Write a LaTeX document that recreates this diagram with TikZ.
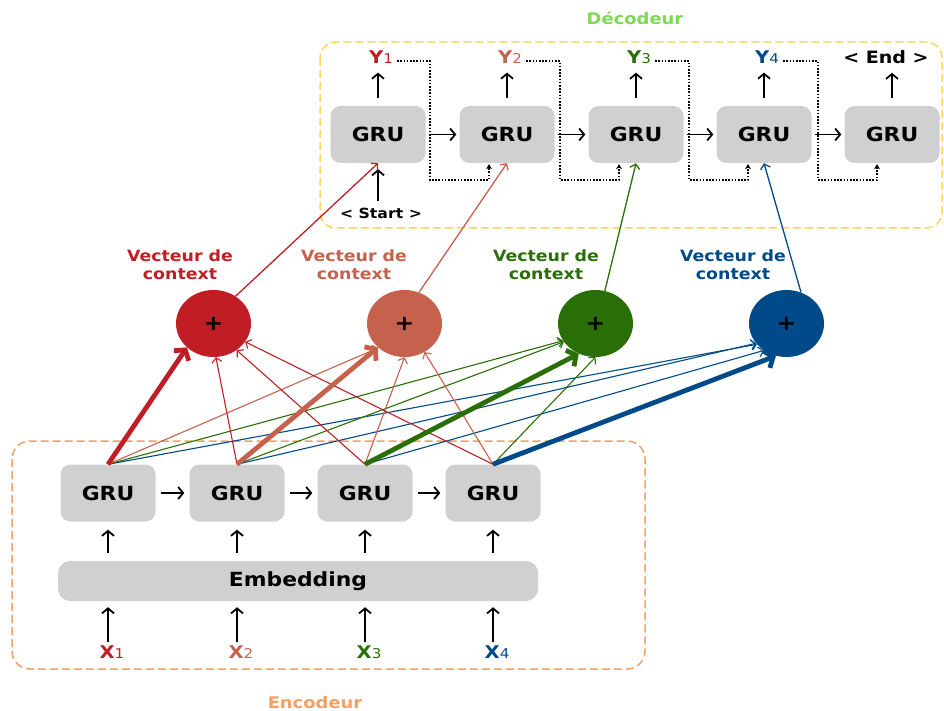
\documentclass[tikz,border=0pt]{standalone}
\usepackage{fontspec}
\setmainfont{DejaVu Sans}[FakeStretch=1.12]
\usetikzlibrary{arrows.meta,shapes.geometric}

\definecolor{cRed}{RGB}{192,30,36}
\definecolor{cSalmon}{RGB}{197,97,77}
\definecolor{cGreen}{RGB}{42,110,8}
\definecolor{cBlue}{RGB}{0,74,138}
\definecolor{boxgray}{RGB}{208,208,208}
\definecolor{decText}{RGB}{126,217,87}
\definecolor{decBorder}{RGB}{255,214,90}
\definecolor{encBorder}{RGB}{244,160,100}

\newcommand{\fsz}[1]{\fontsize{#1}{#1}\selectfont}
\newcommand{\lbl}[2]{{\bfseries #1}{\fsz{13.5}#2}}

\begin{document}
\begin{tikzpicture}[x=1pt,y=-1pt,
  gru/.style={fill=boxgray, rounded corners=10pt, minimum width=95pt,
    minimum height=57pt, inner sep=0pt, font=\fsz{19.5}\bfseries},
  ctxnode/.style={ellipse, minimum width=75pt, minimum height=67pt,
    inner sep=0pt, font=\fsz{21}\bfseries},
  ctxlbl/.style={align=center, font=\fontsize{15.5}{18}\selectfont\bfseries},
  seq/.style={font=\fsz{17.5}, inner sep=1pt},
  blk/.style={line width=1.8pt, -{Straight Barb[length=5pt,width=12pt]}},
  dots/.style={line width=1.8pt, dash pattern=on 1.6pt off 1.6pt,
    -{Stealth[length=5pt,width=6pt]}},
  thin/.style={line width=1.1pt, -{Straight Barb[length=4.5pt,width=10pt]}},
  thick/.style={line width=4.8pt, -{Straight Barb[length=7pt,width=18pt]}},
  dec/.style={line width=1.3pt, -{Straight Barb[length=4.5pt,width=10pt]}},
  frame/.style={line width=1.5pt, dash pattern=on 8pt off 4pt}
]
\useasboundingbox (0,0) rectangle (944,711);

% ---------- frames ----------
\draw[frame, draw=decBorder, rounded corners=16pt] (320,42) rectangle (942,228);
\draw[frame, draw=encBorder, rounded corners=18pt] (12,441) rectangle (645,669);
\node[font=\fsz{16}\bfseries, text=decText] (dectitle) at (635,18) {Décodeur};
\node[font=\fsz{16}\bfseries, text=encBorder] (enctitle) at (315,703) {Encodeur};

% ---------- encoder ----------
\node[gru] (e1) at (108,493) {GRU};
\node[gru] (e2) at (237,493) {GRU};
\node[gru] (e3) at (365,493) {GRU};
\node[gru] (e4) at (493,493) {GRU};
\node[fill=boxgray, rounded corners=12pt, minimum width=480pt, minimum height=40pt,
  inner sep=0pt, font=\fsz{19.5}\bfseries] (emb) at (298,581) {Embedding};

\node[seq, text=cRed]    (x1) at (112,652) {\lbl{X}{1}};
\node[seq, text=cSalmon] (x2) at (241,652) {\lbl{X}{2}};
\node[seq, text=cGreen]  (x3) at (369,652) {\lbl{X}{3}};
\node[seq, text=cBlue]   (x4) at (497,652) {\lbl{X}{4}};

\foreach \i in {1,2,3,4}{
  \draw[blk, shorten <=8pt, shorten >=8pt] (e\i |- emb.north) -- (e\i.south);
  \draw[blk, shorten <=2pt, shorten >=6pt] (e\i |- x\i.north) -- (e\i |- emb.south);
}
\draw[blk, shorten <=5pt, shorten >=5pt] (e1.east) -- (e2.west);
\draw[blk, shorten <=5pt, shorten >=5pt] (e2.east) -- (e3.west);
\draw[blk, shorten <=5pt, shorten >=5pt] (e3.east) -- (e4.west);

% ---------- context vectors ----------
\node[ctxnode, fill=cRed]    (c1) at (213.5,323.5) {+};
\node[ctxnode, fill=cSalmon] (c2) at (404.5,323.5) {+};
\node[ctxnode, fill=cGreen]  (c3) at (595.5,323.5) {+};
\node[ctxnode, fill=cBlue]   (c4) at (786.5,323.5) {+};

\node[ctxlbl, text=cRed]    (l1) at (180,265) {Vecteur de\\context};
\node[ctxlbl, text=cSalmon] (l2) at (354,265) {Vecteur de\\context};
\node[ctxlbl, text=cGreen]  (l3) at (546,265) {Vecteur de\\context};
\node[ctxlbl, text=cBlue]   (l4) at (733,265) {Vecteur de\\context};

% attention weights, encoder states -> context vectors
\draw[thin, cBlue]  (e1.north) -- (c4.215);
\draw[thin, cBlue]  (e2.north) -- (c4.213);
\draw[thin, cBlue]  (e3.north) -- (c4.230);
\draw[thin, cGreen] (e1.north) -- (c3.208);
\draw[thin, cGreen] (e2.north) -- (c3.210);
\draw[thin, cGreen] (e4.north) -- (c3.270);
\draw[thin, cSalmon] (e1.north) -- (c2.223);
\draw[thin, cSalmon] (e3.north) -- (c2.270);
\draw[thin, cSalmon] (e4.north) -- (c2.305);
\draw[thin, cRed] (e2.north) -- (c1.274);
\draw[thin, cRed] (e3.north) -- (c1.311);
\draw[thin, cRed] (e4.north) -- (c1.330);
\draw[thick, cRed]    (e1.north) -- (c1.222);
\draw[thick, cSalmon] (e2.north) -- (c2.222);
\draw[thick, cGreen]  (e3.north) -- (c3.241);
\draw[thick, cBlue]   (e4.north) -- (c4.252);

% ---------- decoder ----------
\node[gru] (d1) at (378,134.5) {GRU};
\node[gru] (d2) at (507,134.5) {GRU};
\node[gru] (d3) at (636,134.5) {GRU};
\node[gru] (d4) at (764,134.5) {GRU};
\node[gru] (d5) at (892,134.5) {GRU};

\node[seq, text=cRed]    (y1) at (381,57) {\lbl{Y}{1}};
\node[seq, text=cSalmon] (y2) at (510,57) {\lbl{Y}{2}};
\node[seq, text=cGreen]  (y3) at (639,57) {\lbl{Y}{3}};
\node[seq, text=cBlue]   (y4) at (767,57) {\lbl{Y}{4}};
\node[seq, font=\fsz{17}\bfseries] (yend) at (886,57) {< End >};
\node[font=\fsz{14}\bfseries, inner sep=1pt] (start) at (381,213) {< Start >};

\draw[blk, shorten <=8pt, shorten >=8pt] (d1.north) -- (d1 |- y1.south);
\draw[blk, shorten <=8pt, shorten >=8pt] (d2.north) -- (d2 |- y2.south);
\draw[blk, shorten <=8pt, shorten >=8pt] (d3.north) -- (d3 |- y3.south);
\draw[blk, shorten <=8pt, shorten >=8pt] (d4.north) -- (d4 |- y4.south);
\draw[blk, shorten <=8pt, shorten >=8pt] (d5.north) -- (d5 |- yend.south);
\draw[blk, shorten <=6pt, shorten >=6pt] (d1 |- start.north) -- (d1.south);

\draw[blk, shorten <=3pt, shorten >=3pt] (d1.east) -- (d2.west);
\draw[blk, shorten <=3pt, shorten >=3pt] (d2.east) -- (d3.west);
\draw[blk, shorten <=3pt, shorten >=3pt] (d3.east) -- (d4.west);
\draw[blk, shorten <=3pt, shorten >=3pt] (d4.east) -- (d5.west);

% previous output fed back as next input
\coordinate (f1) at (430,180);
\coordinate (f2) at (560,180);
\coordinate (f3) at (689,180);
\coordinate (f4) at (818,180);
\draw[dots, shorten >=1pt] ([xshift=3pt,yshift=2pt]y1.base east) -| (f1) -| ([xshift=-18pt]d2.south);
\draw[dots, shorten >=1pt] ([xshift=3pt,yshift=2pt]y2.base east) -| (f2) -| ([xshift=-17pt]d3.south);
\draw[dots, shorten >=1pt] ([xshift=3pt,yshift=2pt]y3.base east) -| (f3) -| ([xshift=-16pt]d4.south);
\draw[dots, shorten >=1pt] ([xshift=3pt,yshift=2pt]y4.base east) -| (f4) -| ([xshift=-15pt]d5.south);

% context vectors -> decoder steps
\draw[dec, cRed]    (c1.51) -- (d1.south);
\draw[dec, cSalmon] (c2.65) -- (d2.south);
\draw[dec, cGreen]  (c3.74) -- (d3.south);
\draw[dec, cBlue]   (c4.65) -- (d4.south);
\end{tikzpicture}
\end{document}
